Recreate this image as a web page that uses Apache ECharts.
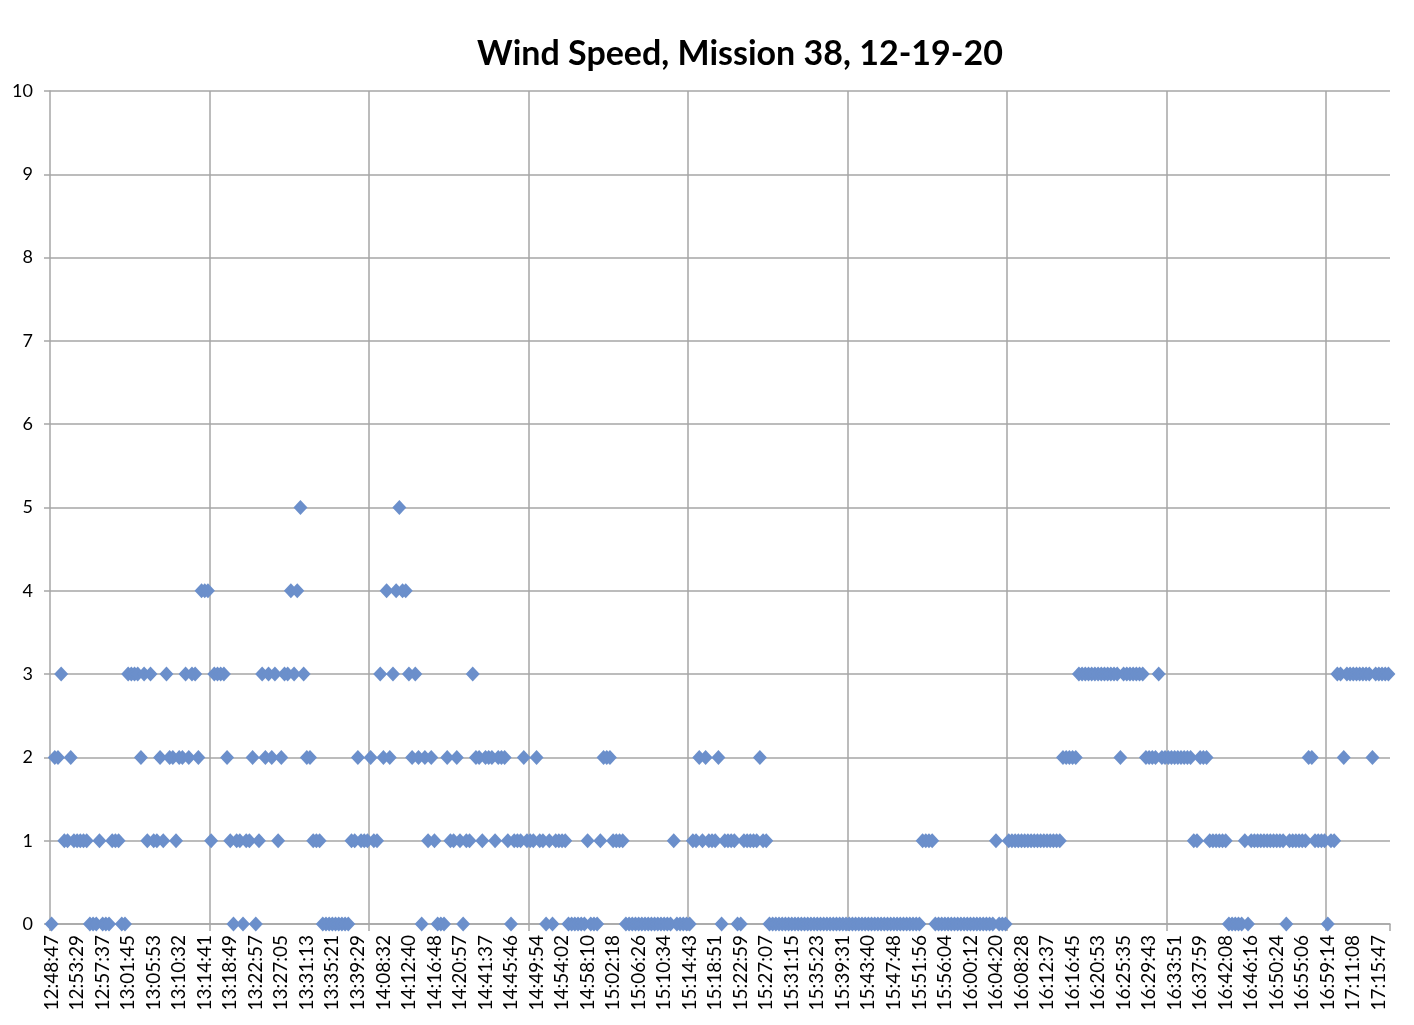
<!DOCTYPE html>
<html>
<head>
<meta charset="utf-8">
<script src="https://cdn.jsdelivr.net/npm/echarts@6/dist/echarts.min.js"></script>
<style>
html,body{margin:0;padding:0;background:#fff;}
#chart{width:1414px;height:1025px;}
</style>
</head>
<body>
<div id="chart"></div>
<script>
// Tick labels shown on the x axis (one every 8 samples)
const tickLabels = ['12:48:47','12:53:29','12:57:37','13:01:45','13:05:53','13:10:32','13:14:41','13:18:49','13:22:57','13:27:05','13:31:13','13:35:21','13:39:29','14:08:32','14:12:40','14:16:48','14:20:57','14:41:37','14:45:46','14:49:54','14:54:02','14:58:10','15:02:18','15:06:26','15:10:34','15:14:43','15:18:51','15:22:59','15:27:07','15:31:15','15:35:23','15:39:31','15:43:40','15:47:48','15:51:56','15:56:04','16:00:12','16:04:20','16:08:28','16:12:37','16:16:45','16:20:53','16:25:35','16:29:43','16:33:51','16:37:59','16:42:08','16:46:16','16:50:24','16:55:06','16:59:14','17:11:08','17:15:47'];

// Wind speed readings (in sample order)
const windSpeed = [
  0,2,2,3,1,1,2,1,1,1, 1,1,0,0,0,1,0,0,0,1, 1,1,0,0,3,3,3,3,2,3, 1,3,1,1,2,1,3,2,2,1,
  2,2,3,2,3,3,2,4,4,4, 1,3,3,3,3,2,1,0,1,1, 0,1,1,2,0,1,3,2,3,2, 3,1,2,3,3,4,3,4,5,3,
  2,2,1,1,1,0,0,0,0,0, 0,0,0,0,1,1,2,1,1,1, 2,1,1,3,2,4,2,3,4,5, 4,4,3,2,3,2,0,2,1,2,
  1,0,0,0,2,1,1,2,1,0, 1,1,3,2,2,1,2,2,2,1, 2,2,2,1,0,1,1,1,2,1, 1,1,2,1,1,0,1,0,1,1,
  1,1,0,0,0,0,0,0,1,0, 0,0,1,2,2,2,1,1,1,1, 0,0,0,0,0,0,0,0,0,0, 0,0,0,0,0,1,0,0,0,0,
  0,1,1,2,1,2,1,1,1,2, 0,1,1,1,1,0,0,1,1,1, 1,1,2,1,1,0,0,0,0,0, 0,0,0,0,0,0,0,0,0,0,
  0,0,0,0,0,0,0,0,0,0, 0,0,0,0,0,0,0,0,0,0, 0,0,0,0,0,0,0,0,0,0, 0,0,0,1,1,1,1,0,0,0,
  0,0,0,0,0,0,0,0,0,0, 0,0,0,0,0,0,1,0,0,0, 1,1,1,1,1,1,1,1,1,1, 1,1,1,1,1,1,1,2,2,2,
  2,2,3,3,3,3,3,3,3,3, 3,3,3,3,3,2,3,3,3,3, 3,3,3,2,2,2,2,3,2,2, 2,2,2,2,2,2,2,2,1,1,
  2,2,2,1,1,1,1,1,1,0, 0,0,0,0,1,0,1,1,1,1, 1,1,1,1,1,1,1,0,1,1, 1,1,1,1,2,2,1,1,1,1,
  0,1,1,3,3,2,3,3,3,3, 3,3,3,3,2,3,3,3,3,3
];

const perLabel = 8;
const categories = windSpeed.map((v, i) =>
  i % perLabel === 0 ? tickLabels[i / perLabel] : tickLabels[Math.floor(i / perLabel)] + '#' + (i % perLabel));

const gridColor = '#a6a6a6';
const chart = echarts.init(document.getElementById('chart'), null, {renderer: 'canvas'});
chart.setOption({
  animation: false,
  backgroundColor: '#ffffff',
  title: {
    text: 'Wind Speed, Mission 38, 12-19-20',
    left: 740,
    top: 37,
    textAlign: 'center',
    padding: 0,
    textStyle: {fontFamily: 'Lato', fontWeight: 'bold', fontSize: 34, color: '#000'}
  },
  grid: {left: 50, right: 24, top: 91, bottom: 101, containLabel: false, outerBoundsMode: 'none'},
  xAxis: {
    type: 'category',
    data: categories,
    boundaryGap: true,
    axisLine: {show: true, lineStyle: {color: gridColor, width: 1.5}},
    axisTick: {show: true, interval: 49, length: 7, lineStyle: {color: gridColor, width: 1.5}},
    splitLine: {show: true, interval: 49, showMinLine: false, showMaxLine: false, lineStyle: {color: gridColor, width: 1.5}},
    axisLabel: {
      interval: perLabel - 1,
      rotate: 90,
      margin: 11,
      fontFamily: 'Lato',
      fontSize: 19,
      color: '#000',
      formatter: v => v.split('#')[0]
    }
  },
  yAxis: {
    type: 'value',
    min: 0,
    max: 10,
    interval: 1,
    axisLine: {show: true, lineStyle: {color: gridColor, width: 1.5}},
    axisTick: {show: true, length: 6, lineStyle: {color: gridColor, width: 1.5}},
    splitLine: {show: true, lineStyle: {color: gridColor, width: 1.5}},
    axisLabel: {margin: 17, fontFamily: 'Lato', fontSize: 18, color: '#000'}
  },
  series: [{
    name: 'Wind Speed',
    type: 'scatter',
    data: windSpeed,
    symbol: 'diamond',
    symbolSize: [14, 15],
    itemStyle: {color: '#6b8fcb', opacity: 1}
  }]
});
</script>
</body>
</html>
